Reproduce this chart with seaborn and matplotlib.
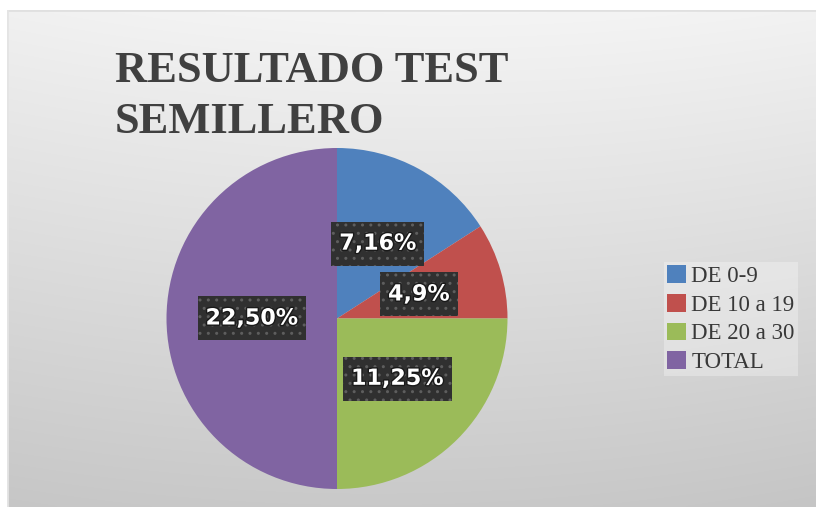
import numpy as np
import matplotlib
matplotlib.use("Agg")
import matplotlib.pyplot as plt
import matplotlib.patheffects as pe
from matplotlib.patches import Rectangle
import seaborn as sns

# ---- data ----
categories = ["DE 0-9", "DE 10 a 19", "DE 20 a 30", "TOTAL"]
values = [7.16, 4.09, 11.25, 22.50]
value_labels = ["7,16%", "4,9%", "11,25%", "22,50%"]
title_text = "RESULTADO TEST\nSEMILLERO"
colors = ["#4F81BD", "#C0504D", "#9BBB59", "#8064A2"]

sns.set_theme(style="white")
plt.rcParams["font.family"] = ["DejaVu Sans"]

W, H = 816, 507
fig = plt.figure(figsize=(W / 100, H / 100), dpi=100)
fig.patch.set_facecolor("white")

# ---- background gradient of the chart area ----
left_px, top_px = 7, 10
bg_ax = fig.add_axes([left_px / W, 0, 1 - left_px / W, 1 - top_px / H])
ny, nx = 200, 300
yy, xx = np.mgrid[0:1:ny * 1j, 0:1:nx * 1j]
shade = 0.958 - 0.165 * yy - 0.05 * (xx - 0.55) ** 2 - 0.01 * yy * xx
img = np.dstack([shade, shade, shade])
bg_ax.imshow(img, aspect="auto", extent=[0, 1, 1, 0], interpolation="bilinear")
bg_ax.set_xlim(0, 1)
bg_ax.set_ylim(1, 0)
bg_ax.axis("off")
bg_ax.axhline(0.0, color="#e0e0e0", lw=2)
bg_ax.axvline(0.0, color="#e4e4e4", lw=2)

# ---- pie ----
cx, cy, r = 337, 318.5, 170.5
ax = fig.add_axes([(cx - r) / W, (H - cy - r) / H, 2 * r / W, 2 * r / H])
wedges, _ = ax.pie(values, colors=colors, startangle=90, counterclock=False,
                   radius=1.0, wedgeprops=dict(linewidth=0))
ax.set_xlim(-1, 1)
ax.set_ylim(-1, 1)
ax.set_aspect("auto")
ax.axis("off")

# data labels at half radius along each wedge's middle angle
texts = []
for w, lab in zip(wedges, value_labels):
    ang = np.deg2rad((w.theta1 + w.theta2) / 2)
    x, y = 0.5 * np.cos(ang), 0.5 * np.sin(ang)
    t = ax.text(x, y, lab, ha="center", va="center", color="white",
                fontsize=16, fontweight="bold", family="DejaVu Sans", zorder=6)
    t.set_path_effects([pe.withStroke(linewidth=2, foreground="#1a1a1a")])
    texts.append(t)

fig.canvas.draw()
renderer = fig.canvas.get_renderer()
inv = ax.transData.inverted()
pad_x, box_h = 8, 44
for t in texts:
    bb = t.get_window_extent(renderer)
    mid_y = (bb.y0 + bb.y1) / 2
    (x0, y0) = inv.transform((bb.x0 - pad_x, mid_y - box_h / 2))
    (x1, y1) = inv.transform((bb.x1 + pad_x, mid_y + box_h / 2))
    ax.add_patch(Rectangle((x0, y0), x1 - x0, y1 - y0, facecolor="#303030",
                           edgecolor="#5e5e5e", linewidth=0, hatch="..",
                           zorder=5))

# ---- title ----
fig.text(115 / W, 1 - 51 / H, title_text, ha="left", va="top",
         fontsize=32, fontweight="bold", family="Liberation Serif",
         color="#404040", linespacing=1.36)

# ---- legend ----
leg = fig.legend(wedges, categories, loc="upper left",
                 bbox_to_anchor=(664 / W, 1 - 262 / H),
                 prop=dict(family="Liberation Serif", size=16.5),
                 handlelength=0.82, handleheight=0.8, handletextpad=0.22,
                 labelspacing=0.3, borderpad=0.15, frameon=True,
                 fancybox=False, borderaxespad=0)
frame = leg.get_frame()
frame.set_facecolor("white")
frame.set_alpha(0.3)
frame.set_edgecolor("none")
for txt in leg.get_texts():
    txt.set_color("#383838")

fig.savefig("out.png", dpi=100)
